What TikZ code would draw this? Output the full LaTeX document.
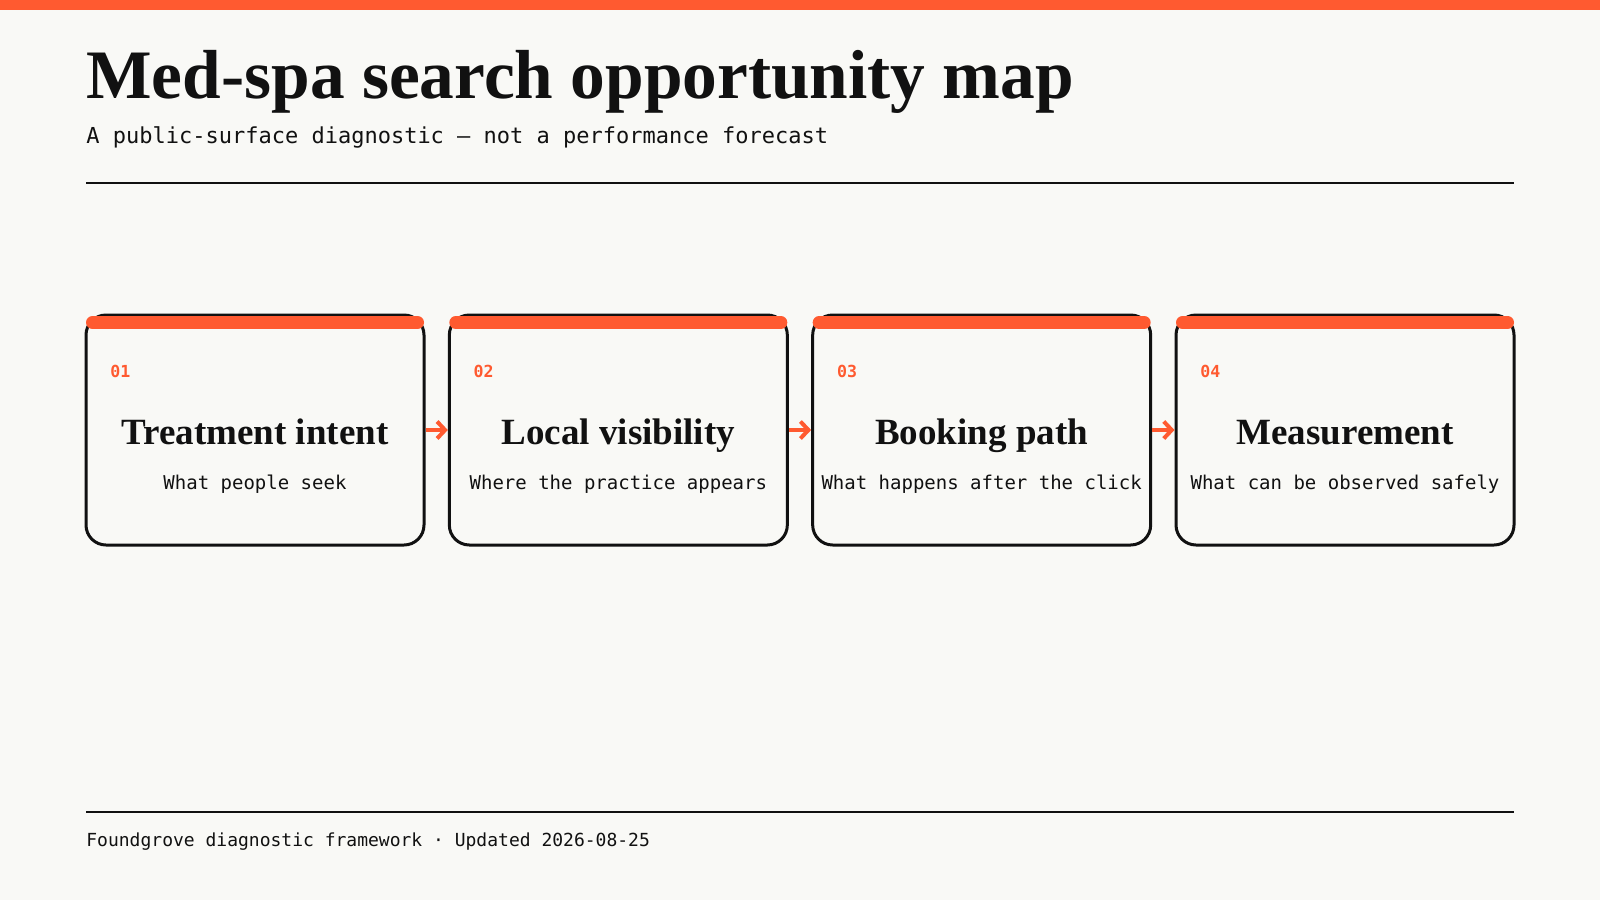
\documentclass[tikz,border=0pt]{standalone}
\usepackage{fontspec}
\setmainfont{Liberation Serif}
\setmonofont{DejaVu Sans Mono}
\usetikzlibrary{arrows.meta}
\definecolor{paper}{HTML}{F9F9F6}
\definecolor{accent}{HTML}{FF5A30}
\definecolor{ink}{HTML}{111111}
\tikzset{
  stagebox/.style={draw=ink,line width=1.5pt,rounded corners=10pt,fill=paper,
    minimum width=169pt,minimum height=115pt,inner sep=0pt},
  stagebar/.style={draw=accent,line width=6.5pt,line cap=round},
  stagenum/.style={anchor=base west,inner sep=0pt,text=accent,
    font=\ttfamily\bfseries\fontsize{8.3}{10}\selectfont},
  stagetitle/.style={anchor=base,inner sep=0pt,text=ink,
    font=\rmfamily\bfseries\fontsize{18.5}{22}\selectfont},
  stagedesc/.style={anchor=base,inner sep=0pt,text=ink,
    font=\ttfamily\fontsize{9.5}{12}\selectfont},
  flow/.style={draw=accent,line width=2pt,-{Straight Barb[length=4pt,width=8.5pt]}}
}
\begin{document}
\begin{tikzpicture}[x=0.5pt,y=-0.5pt]
% page and top band
\fill[paper] (0,0) rectangle (1600,900);
\useasboundingbox (0,0) rectangle (1600,900);
\fill[accent] (0,0) rectangle (1600,10);
% heading
\node[anchor=base west,inner sep=0pt,text=ink,font=\rmfamily\bfseries\fontsize{34.7}{40}\selectfont]
  (title) at (86,98) {Med-spa search opportunity map};
\node[anchor=base west,inner sep=0pt,text=ink,font=\ttfamily\fontsize{11}{13}\selectfont]
  (subtitle) at (86,143) {A public-surface diagnostic — not a performance forecast};
\draw[ink,line width=1pt] (86,183) -- (1514,183);
% the four stages
\foreach \i/\x/\name/\desc in {1/255/Treatment intent/What people seek,
    2/618.33/Local visibility/Where the practice appears,
    3/981.67/Booking path/What happens after the click,
    4/1345/Measurement/What can be observed safely}
{
  \node[stagebox] (b\i) at (\x,430) {};
  \draw[stagebar] (\x-162.5,322.5) -- (\x+162.5,322.5);
  \node[stagenum] (n\i) at (\x-145,377) {0\i};
  \node[stagetitle] (t\i) at (\x,444) {\name};
  \node[stagedesc] (d\i) at (\x,489) {\desc};
}
% arrows between stages
\foreach \i/\j in {1/2,2/3,3/4}
  \draw[flow] (b\i) -- (b\j);
% footer
\draw[ink,line width=1pt] (86,812) -- (1514,812);
\node[anchor=base west,inner sep=0pt,text=ink,font=\ttfamily\fontsize{9}{11}\selectfont]
  (footer) at (86,846) {Foundgrove diagnostic framework · Updated 2026-08-25};
\end{tikzpicture}
\end{document}
